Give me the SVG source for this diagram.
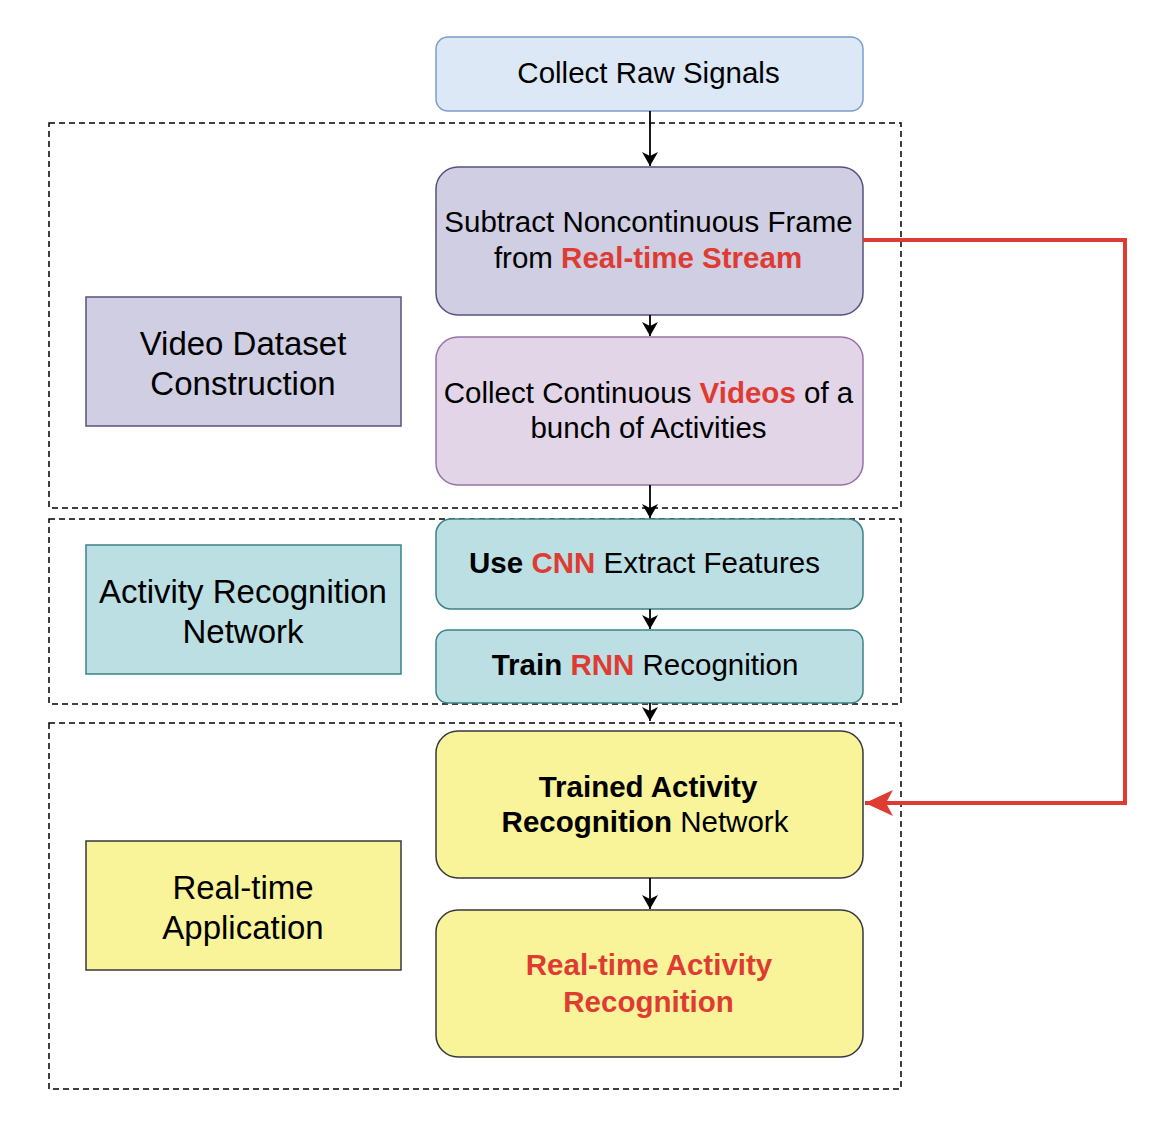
<svg xmlns="http://www.w3.org/2000/svg" width="1164" height="1126" viewBox="0 0 1164 1126">
<style>
text{font-family:"Liberation Sans",Arial,Helvetica,sans-serif;fill:#000;text-anchor:middle}
.m{font-size:29.5px}
.l{font-size:33px}
.b{font-weight:bold}
.r{fill:#de3b33}
.dash{fill:none;stroke:#000;stroke-width:1.5;stroke-dasharray:6 4}
.conn{fill:none;stroke:#000;stroke-width:1.8}
</style>
<defs>
<marker id="ah" markerUnits="userSpaceOnUse" markerWidth="16" markerHeight="16" refX="14" refY="8" orient="auto">
<path d="M0,0 L14,8 L0,16 L4,8 Z" fill="#000"/>
</marker>
<marker id="ahr" markerUnits="userSpaceOnUse" markerWidth="30" markerHeight="26" refX="28" refY="13" orient="auto">
<path d="M0,0 L28,13 L0,26 L7,13 Z" fill="#de3b33"/>
</marker>
</defs>
<rect width="1164" height="1126" fill="#fff"/>
<g id="groups">
<rect class="dash" x="49" y="123" width="852" height="385"/>
<rect class="dash" x="49" y="519" width="852" height="185"/>
<rect class="dash" x="49" y="723" width="852" height="366"/>
</g>
<g id="label-video">
<rect x="86" y="297" width="315" height="129" fill="#d0cee2" stroke="#56517e" stroke-width="1.5"/>
<text class="l" x="243" y="355">Video Dataset</text>
<text class="l" x="243" y="395">Construction</text>
</g>
<g id="label-arn">
<rect x="86" y="545" width="315" height="129" fill="#bcdfe3" stroke="#3b8288" stroke-width="1.5"/>
<text class="l" x="243" y="603">Activity Recognition</text>
<text class="l" x="243" y="643">Network</text>
</g>
<g id="label-rt">
<rect x="86" y="841" width="315" height="129" fill="#f9f49a" stroke="#36393d" stroke-width="1.5"/>
<text class="l" x="243" y="899">Real-time</text>
<text class="l" x="243" y="939">Application</text>
</g>
<g id="n-raw">
<rect x="436" y="37" width="427" height="74" rx="12" fill="#dde8f6" stroke="#7c9dc9" stroke-width="1.5"/>
<text class="m" x="648.5" y="83">Collect Raw Signals</text>
</g>
<g id="n-subtract">
<rect x="436" y="167" width="427" height="148" rx="22" fill="#d0cee2" stroke="#56517e" stroke-width="1.5"/>
<text class="m" x="648.5" y="232">Subtract Noncontinuous Frame</text>
<text class="m" x="648" y="268">from <tspan class="b r">Real-time Stream</tspan></text>
</g>
<g id="n-continuous">
<rect x="436" y="337" width="427" height="148" rx="22" fill="#e1d5e7" stroke="#9673a6" stroke-width="1.5"/>
<text class="m" x="648.5" y="403">Collect Continuous <tspan class="b r">Videos</tspan> of a</text>
<text class="m" x="648.5" y="438">bunch of Activities</text>
</g>
<g id="n-cnn">
<rect x="436" y="519" width="427" height="90" rx="15" fill="#bcdfe3" stroke="#3b8288" stroke-width="1.5"/>
<text class="m" x="644.5" y="573"><tspan class="b">Use </tspan><tspan class="b r">CNN</tspan> Extract Features</text>
</g>
<g id="n-rnn">
<rect x="436" y="630" width="427" height="73" rx="12" fill="#bcdfe3" stroke="#3b8288" stroke-width="1.5"/>
<text class="m" x="645" y="675"><tspan class="b">Train </tspan><tspan class="b r">RNN</tspan> Recognition</text>
</g>
<g id="n-trained">
<rect x="436" y="731" width="427" height="147" rx="22" fill="#f9f49a" stroke="#36393d" stroke-width="1.5"/>
<text class="m b" x="648" y="797">Trained Activity</text>
<text class="m" x="645" y="832"><tspan class="b">Recognition</tspan> Network</text>
</g>
<g id="n-realtime">
<rect x="436" y="910" width="427" height="147" rx="22" fill="#f9f49a" stroke="#36393d" stroke-width="1.5"/>
<text class="m b r" x="649" y="975">Real-time Activity</text>
<text class="m b r" x="648.5" y="1012">Recognition</text>
</g>
<g id="connectors">
<line class="conn" x1="650" y1="111" x2="650" y2="166" marker-end="url(#ah)"/>
<line class="conn" x1="650" y1="315" x2="650" y2="336" marker-end="url(#ah)"/>
<line class="conn" x1="650" y1="485" x2="650" y2="518" marker-end="url(#ah)"/>
<line class="conn" x1="650" y1="609" x2="650" y2="629" marker-end="url(#ah)"/>
<line class="conn" x1="650" y1="703" x2="650" y2="721" marker-end="url(#ah)"/>
<line class="conn" x1="650" y1="878" x2="650" y2="909" marker-end="url(#ah)"/>
<polyline points="863,240 1125,240 1125,803 865,803" fill="none" stroke="#de3b33" stroke-width="4" marker-end="url(#ahr)"/>
</g>
</svg>
